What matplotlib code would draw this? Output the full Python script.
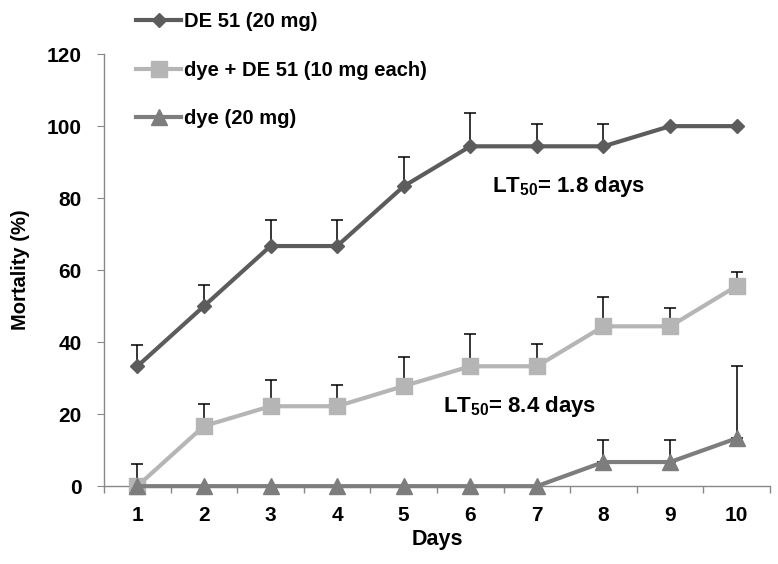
import numpy as np
import matplotlib.pyplot as plt

plt.rcParams['font.family'] = ['Liberation Sans', 'DejaVu Sans']
plt.rcParams['font.weight'] = 'bold'
plt.rcParams['mathtext.fontset'] = 'custom'
plt.rcParams['mathtext.rm'] = 'Liberation Sans'
plt.rcParams['mathtext.bf'] = 'Liberation Sans:bold'

days = [1, 2, 3, 4, 5, 6, 7, 8, 9, 10]

de51 = [33.3, 50.0, 66.7, 66.7, 83.3, 94.4, 94.4, 94.4, 100.0, 100.0]
de51_err = [6.0, 6.0, 7.2, 7.2, 8.0, 9.2, 6.1, 6.1, 0, 0]

mix = [0, 16.7, 22.2, 22.2, 27.8, 33.3, 33.3, 44.4, 44.4, 55.6]
mix_err = [6.2, 6.1, 7.2, 6.0, 8.2, 9.1, 6.1, 8.2, 5.2, 4.0]

dye = [0, 0, 0, 0, 0, 0, 0, 6.7, 6.7, 13.3]
dye_err = [0, 0, 0, 0, 0, 0, 0, 6.1, 6.1, 20.0]

labels = ['DE 51 (20 mg)', 'dye + DE 51 (10 mg each)', 'dye (20 mg)']
colors = ['#5c5c5c', '#b5b5b5', '#7d7d7d']
markers = ['D', 's', '^']
msizes = [7.5, 11, 11]

fig = plt.figure(figsize=(7.78, 5.64), dpi=100)
ax = fig.add_axes([0.1337, 0.138, 0.856, 0.766])

series = [(de51, de51_err), (mix, mix_err), (dye, dye_err)]
handles = []
for (vals, err), lab, c, m, ms in zip(series, labels, colors, markers, msizes):
    err = np.array(err)
    ax.errorbar(days, vals, yerr=[np.zeros_like(err), err], fmt='none',
                ecolor='black', elinewidth=1.1, capsize=4, capthick=1.1,
                zorder=2)
    h, = ax.plot(days, vals, color=c, marker=m, markersize=ms, linewidth=3,
                 label=lab, zorder=3, clip_on=False)
    handles.append(h)

ax.set_xlim(0.5, 10.5)
ax.set_ylim(0, 120)
ax.set_yticks(range(0, 121, 20))
ax.set_xticks(days)
ax.set_xticks(np.arange(0.5, 10.6, 1), minor=True)
ax.tick_params(axis='x', which='major', length=0, labelsize=15, pad=14)
ax.tick_params(axis='x', which='minor', length=5, color='#888888', width=1)
ax.tick_params(axis='y', length=5, color='#888888', labelsize=15, pad=11)
for lab in ax.get_xticklabels() + ax.get_yticklabels():
    lab.set_fontweight('bold')

for s in ['top', 'right']:
    ax.spines[s].set_visible(False)
for s in ['left', 'bottom']:
    ax.spines[s].set_color('#888888')
    ax.spines[s].set_linewidth(1)

ax.set_xlabel('Days', fontsize=15.5, fontweight='bold', labelpad=3)
ax.set_ylabel('Mortality (%)', fontsize=14.5, fontweight='bold', labelpad=12)

ax.text(7.47, 83.3, r'LT$_{\mathregular{50}}$= 1.8 days', fontsize=16,
        fontweight='bold', ha='center', va='center')
ax.text(6.74, 22.0, r'LT$_{\mathregular{50}}$= 8.4 days', fontsize=16,
        fontweight='bold', ha='center', va='center')

fig.legend(handles=handles, loc='upper left', bbox_to_anchor=(0.152, 1.01),
           frameon=False, handlelength=2.2, handletextpad=0.15,
           labelspacing=1.45, prop={'weight': 'bold', 'size': 14.5})

fig.savefig('out.png', dpi=100)
